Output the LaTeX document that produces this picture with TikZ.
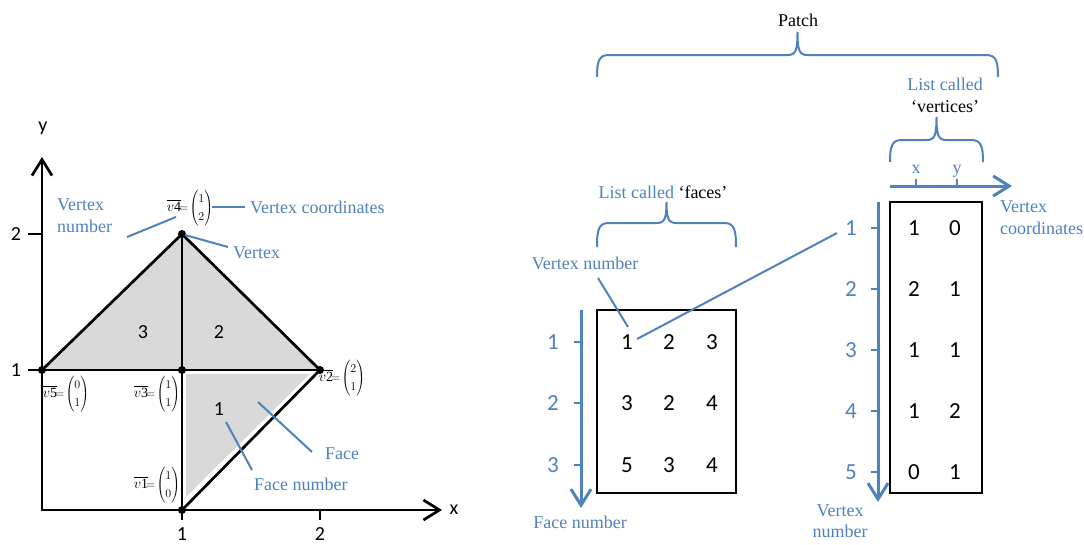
\documentclass[tikz,border=0pt]{standalone}
\usepackage{fontspec}
\setmainfont{Liberation Serif}
\newfontfamily\calib{Carlito}
\usetikzlibrary{arrows.meta}
\definecolor{mblue}{RGB}{79,129,189}
\definecolor{mgray}{RGB}{217,217,217}
\newcommand{\vlab}[3]{{\fontsize{14}{16}\selectfont$\overline{v\mathrm{#1}}$}{\fontsize{13}{17.5}\selectfont$\!=\!\left(\begin{array}{@{}c@{}}#2\\#3\end{array}\right)$}}
\newcommand{\mybrace}[5]{%
\draw[bracestyle] (#1,#3) .. controls (#1,#4+6) and (#1+2,#4) .. (#1+12,#4)
  -- ({(#1+#2)/2-10},#4) .. controls ({(#1+#2)/2-2},#4) and ({(#1+#2)/2},#4-4) .. ({(#1+#2)/2},#5)
  .. controls ({(#1+#2)/2},#4-4) and ({(#1+#2)/2+2},#4) .. ({(#1+#2)/2+10},#4)
  -- (#2-12,#4) .. controls (#2-2,#4) and (#2,#4+6) .. (#2,#3);}
\begin{document}
\begin{tikzpicture}[x=1pt,y=-1pt,
  bl/.style={mblue, line width=2pt},
  blarrow/.style={mblue, line width=3pt, -{Straight Barb[length=16pt,width=20pt]}},
  ax/.style={black, line width=2.7pt, {Straight Barb[length=16pt,width=20pt]}-{Straight Barb[length=16pt,width=20pt]}},
  edge/.style={black, line width=2.7pt},
  bracestyle/.style={mblue, line width=2pt},
  lab/.style={mblue, font=\fontsize{18}{22}\selectfont, inner sep=0pt},
  blk/.style={black, font=\fontsize{18}{22}\selectfont, inner sep=0pt},
  num/.style={font=\calib\fontsize{20}{24}\selectfont, inner sep=0pt},
  tnum/.style={font=\calib\fontsize{23}{26}\selectfont, inner sep=0pt},
  bnum/.style={tnum, text=mblue},
  dot/.style={circle, fill=black, inner sep=0pt, minimum size=8pt},
  vl/.style={inner sep=0pt},
  tbl/.style={draw, line width=2.5pt, inner sep=0pt},
]
\useasboundingbox (0,0) rectangle (1084,544);
% ---------- left: mesh ----------
\coordinate (v1) at (182,510);
\coordinate (v2) at (320,370);
\coordinate (v3) at (182,370);
\coordinate (v4) at (182,234);
\coordinate (v5) at (42,370);
\fill[mgray] (v5) -- (v3) -- (v4) -- cycle;
\fill[mgray] (v3) -- (v2) -- (v4) -- cycle;
\fill[mgray] (186,374) -- (310,374) -- (186,497) -- cycle;
\draw[ax] (42,157) -- (42,510) -- (442,510);
\draw[edge] (28,370) -- (v2);
\draw[edge] (v4) -- (182,520);
\draw[edge] (v5) -- (v4) -- (v2) -- (v1);
\draw[edge] (320,510) -- (320,520);
\draw[edge] (28,234) -- (42,234);
\foreach \i in {1,...,5} {\node[dot] (d\i) at (v\i) {};}
\node[num] (ylab) at (43,128) {y};
\node[num] (xlab) at (454,510) {x};
\node[num] (y2) at (16,234) {2};
\node[num] (y1) at (16,370) {1};
\node[num] (x1) at (182,534) {1};
\node[num] (x2) at (320,534) {2};
\node[num] (f3) at (143,332) {3};
\node[num] (f2) at (219,332) {2};
\node[num] (f1) at (219,409) {1};
\node[vl] (l4) at (190,208) {\vlab{4}{1}{2}};
\node[vl] (l5) at (66,394) {\vlab{5}{0}{1}};
\node[vl] (l3) at (157,394) {\vlab{3}{1}{1}};
\node[vl] (l1) at (157,485) {\vlab{1}{1}{0}};
\node[vl] (l2) at (342,378) {\vlab{2}{2}{1}};
\node[lab, align=left, anchor=west] (vn) at (57,216) {Vertex\\number};
\node[lab, anchor=west] (vc) at (250,207) {Vertex coordinates};
\node[lab, anchor=west] (vx) at (233,253) {Vertex};
\node[lab, anchor=west] (fc) at (325,454) {Face};
\node[lab, anchor=west] (fn) at (254,484) {Face number};
\coordinate (a1) at (127,237); \coordinate (a2) at (176,217);
\coordinate (b1) at (212,207); \coordinate (b2) at (245,207);
\coordinate (c1) at (185,235); \coordinate (c2) at (228,247);
\coordinate (e1) at (258,402); \coordinate (e2) at (312,452);
\coordinate (g1) at (226,422); \coordinate (g2) at (252,470);
\draw[bl] (a1) -- (a2);
\draw[bl] (b1) -- (b2);
\draw[bl] (c1) -- (c2);
\draw[bl] (e1) -- (e2);
\draw[bl] (g1) -- (g2);
% ---------- right: patch ----------
\node[blk] (patch) at (798,20) {Patch};
\mybrace{597}{998}{77}{55}{32}
\node[blk] (lf) at (663,192) {\textcolor{mblue}{List called }`faces'};
\mybrace{597}{736}{247}{223}{202}
\node[blk, align=center] (lv) at (945,95) {\textcolor{mblue}{List called}\\`vertices'};
\mybrace{890}{983}{162}{140}{117}
% faces table
\node[tbl, minimum width=139pt, minimum height=183pt] (fbox) at (666.5,401.5) {};
\foreach \r/\y in {1/342,2/403,3/465} {
  \node[bnum] (fr\r) at (553,\y) {\r};
  \draw[bl, line width=2.5pt] (574,\y) -- (581,\y);
}
\foreach \a/\b/\c/\y [count=\k] in {1/2/3/342,3/2/4/403,5/3/4/465} {
  \node[tnum] (fa\k) at (627,\y) {\a};
  \node[tnum] (fb\k) at (669,\y) {\b};
  \node[tnum] (fc\k) at (712,\y) {\c};
}
\coordinate (fs) at (581,310); \coordinate (fe) at (581,508);
\draw[blarrow] (fs) -- (fe);
\node[lab] (fnum) at (580,522) {Face number};
\node[lab] (vnum) at (585,263) {Vertex number};
\coordinate (h1) at (598,278); \coordinate (h2) at (628,327);
\draw[bl] (h1) -- (h2);
% vertices table
\node[tbl, minimum width=92pt, minimum height=291pt] (vbox) at (936,347.5) {};
\foreach \r/\y in {1/228,2/289,3/350,4/411,5/472} {
  \node[bnum] (vr\r) at (851,\y) {\r};
  \draw[bl, line width=2.5pt] (871,\y) -- (878,\y);
}
\foreach \a/\b/\y [count=\k] in {1/0/228,2/1/289,1/1/350,1/2/411,0/1/472} {
  \node[tnum] (va\k) at (914,\y) {\a};
  \node[tnum] (vb\k) at (955,\y) {\b};
}
\coordinate (vs) at (878,202); \coordinate (ve) at (878,502);
\draw[blarrow] (vs) -- (ve);
\coordinate (hs) at (890,186); \coordinate (he) at (1012,186);
\draw[blarrow] (hs) -- (he);
\draw[bl, line width=2.5pt] (916,179) -- (916,186);
\draw[bl, line width=2.5pt] (957,179) -- (957,186);
\node[lab, anchor=base] (xl) at (916,173) {x};
\node[lab, anchor=base] (yl) at (957,173) {y};
\node[lab, align=left, anchor=west] (vco) at (1000,218) {Vertex\\coordinates};
\node[lab, align=center, font=\fontsize{18}{21}\selectfont] (vnb) at (840,521) {Vertex\\number};
\coordinate (k1) at (637,339); \coordinate (k2) at (837,233);
\draw[bl] (k1) -- (k2);
\end{tikzpicture}
\end{document}
